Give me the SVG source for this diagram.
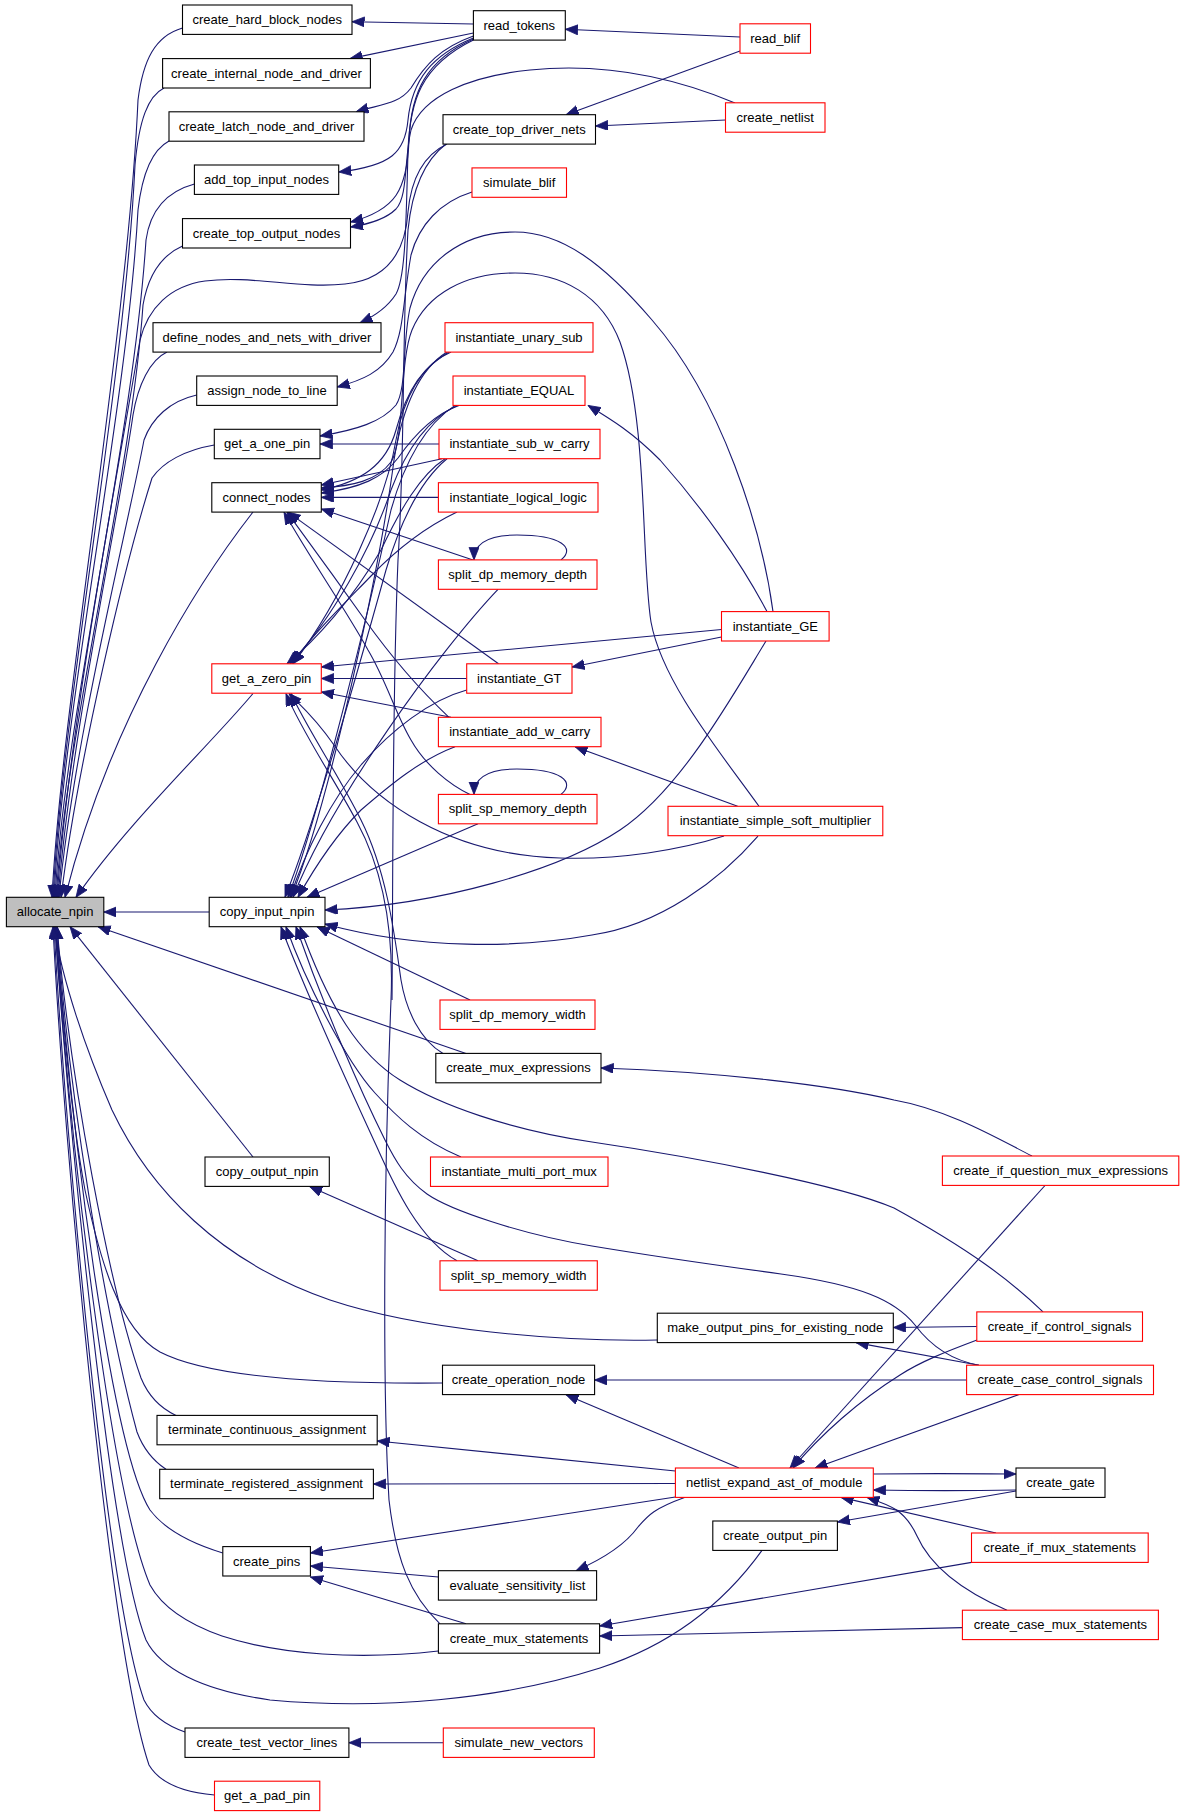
<svg xmlns="http://www.w3.org/2000/svg" width="1184" height="1816" viewBox="0 0 1184 1816">
<style>
.nd rect{fill:#fff;stroke:#000;stroke-width:1.1}
.nr rect{fill:#fff;stroke:#f00;stroke-width:1.1}
.ng rect{fill:#bfbfbf;stroke:#000;stroke-width:1.1}
text{font-family:"Liberation Sans",Arial,Helvetica,sans-serif;font-size:13px;fill:#000;text-anchor:middle}
#edges path{fill:none;stroke:#191970;stroke-width:1.1}
#edges path.a{marker-end:url(#ah)}
</style>
<defs>
<marker id="ah" markerUnits="userSpaceOnUse" markerWidth="14" markerHeight="11" refX="12.5" refY="5" orient="auto"><path d="M0,0 L12.5,5 L0,10 z" fill="#191970" stroke="#191970" stroke-width="0.8"/></marker>
</defs>
<rect width="1184" height="1816" fill="#fff"/>
<g id="edges">
<!-- to allocate_npin -->
<path class="a" d="M182.5,28 C155,36 143,60 138,100 C128,330 62,700 52,897.3"/>
<path class="a" d="M164,88 C148,96 139,120 135,165 C125,380 63,700 53,897.3"/>
<path class="a" d="M169,141 C152,150 142,175 138,210 C127,410 64,700 54,897.3"/>
<path class="a" d="M194.4,184 C165,192 150,212 146,240 C133,440 66,710 55,897.3"/>
<path class="a" d="M182.5,246 C160,256 148,276 143,305 C131,480 68,720 56,897.3"/>
<path class="a" d="M447,144 C422,156 411,180 408,212 C405,255 385,280 345,284 C300,289 250,275 205,281 C170,286 148,308 140,340 C120,460 70,720 57,897.3"/>
<path class="a" d="M167,352 C150,360 138,385 133,415 C118,520 72,730 58,897.3"/>
<path class="a" d="M196.7,395 C170,401 152,418 144,440 C126,535 74,740 59,897.3"/>
<path class="a" d="M214.3,445 C185,450 163,462 152,478 C126,560 78,760 61,897.3"/>
<path class="a" d="M253,512 C200,580 110,720 65,897.3"/>
<path class="a" d="M253,693.5 C210,745 130,820 76,897.3"/>
<path class="a" d="M209.2,912 L103.8,912"/>
<path class="a" d="M466,1053.4 L98,926.7"/>
<path class="a" d="M253,1157 L70,926.7"/>
<path class="a" d="M657.3,1340 C560,1342 420,1330 330,1300 C220,1262 150,1190 112,1110 C86,1050 62,980 54,926.7"/>
<path class="a" d="M442.5,1383 C330,1384 210,1378 160,1352 C120,1330 100,1260 85,1190 C70,1110 60,990 56,926.7"/>
<path class="a" d="M176,1415.4 C160,1408 148,1395 141,1378 C110,1290 70,1080 57,926.7"/>
<path class="a" d="M166,1469.3 C152,1460 143,1448 137,1432 C104,1310 68,1090 57,926.7"/>
<path class="a" d="M222.8,1553 C190,1543 165,1530 150,1510 C112,1450 72,1140 56,926.7"/>
<path class="a" d="M438.4,1651 C360,1660 280,1655 222,1636 C182,1622 160,1603 150,1585 C110,1490 70,1140 55,926.7"/>
<path class="a" d="M762,1550.4 C730,1595 680,1642 600,1668 C500,1700 380,1710 270,1700 C200,1690 160,1668 146,1640 C110,1550 70,1140 55,926.7"/>
<path class="a" d="M185,1732 C165,1725 151,1714 144,1700 C108,1600 66,1150 54,926.7"/>
<path class="a" d="M214.5,1795 C180,1792 159,1782 149,1765 C110,1650 64,1150 53,926.7"/>
<!-- top region -->
<path class="a" d="M473.4,24 L352,21.7"/>
<path class="a" d="M473.4,33 L350,58.6"/>
<path class="a" d="M473.4,36 C440,48 425,65 411,88 C399,104 382,104 356,111.8"/>
<path class="a" d="M473.4,38 C432,55 412,80 408,120 C405,152 392,166 338.7,172"/>
<path class="a" d="M473.4,39 C426,60 411,92 409,140 C407,190 396,210 350.6,222"/>
<path class="a" d="M735,103 C680,80 610,62 530,70 C470,76 422,96 411,130 C404,160 408,196 396,209 C386,219 370,224 350.6,227"/>
<path class="a" d="M473.4,40 C420,66 410,102 408,150 C406,232 405,278 396,294 C387,308 375,316 360,322.7"/>
<path class="a" d="M472,192 C440,202 419,225 411,255 C403,300 404,330 393,352 C381,372 363,380 337.2,387"/>
<path class="a" d="M740,37 L565.3,29.3"/>
<path class="a" d="M740,51 L566,114.7"/>
<path class="a" d="M725.5,120 L595.5,126"/>
<path d="M446,144 C425,160 412,190 408,230 C402,330 405,450 398,560 C392,700 393,900 392,1000"/>
<!-- arcs -->
<path class="a" d="M773,611.6 C762,530 722,400 652,320 C604,264 562,232 515,232 C460,232 422,264 410,308 C402,345 407,388 396,405 C382,422 356,430 320,436"/>
<path class="a" d="M759,806.3 C720,752 662,682 651,622 C641,560 648,420 620,342 C602,295 562,273 515,273 C465,273 427,294 412,330 C399,362 405,440 391,462 C377,481 352,486 321.3,488"/>
<!-- instantiate_unary_sub -->
<path class="a" d="M451,352 C421,365 405,396 396,430 C386,466 360,482 321.3,490"/>
<path class="a" d="M449,352 C420,368 403,400 396,440 C386,500 342,600 293,663.8"/>
<path class="a" d="M447,352 C418,370 402,410 394,460 C381,560 331,800 291,897.3"/>
<!-- instantiate_EQUAL -->
<path class="a" d="M459,405.4 C432,415 412,438 398,458 C383,478 360,488 321.3,493"/>
<path class="a" d="M457,405.4 C426,420 406,450 391,490 C371,550 331,620 290,663.8"/>
<path class="a" d="M455,405.4 C425,425 405,460 391,510 C371,600 321,810 288,897.3"/>
<!-- instantiate_sub_w_carry -->
<path class="a" d="M439,444 L320,444"/>
<path class="a" d="M442,458.7 L321.3,485"/>
<path class="a" d="M445,458.7 C420,475 400,510 381,550 C352,600 316,640 287,663.8"/>
<path class="a" d="M447,458.7 C421,480 401,520 386,570 C361,660 316,820 285,897.3"/>
<!-- instantiate_logical_logic -->
<path class="a" d="M438.4,497.4 L321.3,497.4"/>
<path class="a" d="M457,512.1 C430,525 400,546 371,576 C342,606 311,636 292,663.8"/>
<!-- split_dp_memory_depth -->
<path class="a" d="M473,559.9 L321.3,509"/>
<path class="a" d="M498,589.3 C440,650 331,800 293,897.3"/>
<path class="a" d="M561,559.9 C576,548 561,535 517,535 C486,535 474,545 474,559.9"/>
<!-- instantiate_GT -->
<path class="a" d="M498.5,663.8 L288,512.1"/>
<path class="a" d="M466.7,678.5 L321.3,678.5"/>
<path class="a" d="M466.7,690 C430,700 391,730 361,765 C331,800 306,850 290,897.3"/>
<!-- instantiate_add_w_carry -->
<path class="a" d="M449,717.3 C420,690 390,655 365,620 C340,585 311,545 287,512.1"/>
<path class="a" d="M451,717.3 L321.3,692"/>
<path class="a" d="M455,746.7 C420,760 390,785 361,810 C336,835 316,865 298,897.3"/>
<!-- split_sp_memory_depth -->
<path class="a" d="M470,794.4 C450,785 425,765 411,740 C396,715 386,680 368,650 C346,610 311,560 284,512.1"/>
<path class="a" d="M478,823.8 L307,897.3"/>
<path class="a" d="M561,794.4 C576,782 561,769 517,769 C486,769 474,779 474,794.4"/>
<!-- instantiate_GE -->
<path class="a" d="M721.5,637 L572,667"/>
<path class="a" d="M721.5,629.5 L321.3,667"/>
<path class="a" d="M767,611.6 C740,560 700,505 660,460 C632,432 612,420 588,405.4"/>
<path class="a" d="M766,641 C730,700 680,790 620,830 C560,870 440,905 325,910"/>
<!-- soft multiplier -->
<path class="a" d="M737.6,806.3 L575,746.7"/>
<path class="a" d="M724,836.1 C680,850 620,860 560,858 C450,855 372,802 334,745 C314,716 300,705 289,693.6"/>
<path class="a" d="M758,836.1 C720,880 660,925 592,935 C520,948 420,950 325,924"/>
<!-- lower middle -->
<path class="a" d="M470,1000 L317,926.7"/>
<path class="a" d="M443,1053.4 C420,1040 406,1010 401,980 C394,930 386,870 361,820 C337,772 306,727 291,693.6"/>
<path class="a" d="M440,1623.8 C410,1595 396,1560 389,1500 C383,1400 383,1200 391,1000 C394,930 384,872 357,822 C333,777 302,732 286,693.6"/>
<path class="a" d="M461,1157 C420,1140 395,1115 375,1093 C345,1060 305,980 286,926.7"/>
<path class="a" d="M457,1260.8 C420,1240 396,1190 376,1145 C346,1080 301,980 281,926.7"/>
<path class="a" d="M478,1260.8 L309.6,1186.6"/>
<path class="a" d="M1043,1311.9 C1010,1280 970,1250 894,1208 C840,1185 700,1158 592,1142 C510,1130 440,1105 400,1080 C360,1055 330,1010 300,926.7"/>
<path class="a" d="M979,1365.2 C950,1360 930,1345 915,1325 C895,1300 860,1285 781,1274 C700,1263 640,1254 592,1246 C520,1234 450,1210 427,1194 C405,1178 395,1160 385,1140 C360,1090 325,1010 296,926.7"/>
<path class="a" d="M1032,1156 C1000,1140 950,1110 894,1100 C830,1085 720,1072 601,1068"/>
<path class="a" d="M979,1365.2 L856,1342.6"/>
<path class="a" d="M976.8,1326.5 L893.3,1327.5"/>
<path class="a" d="M966.6,1380 L594.6,1380"/>
<!-- netlist_expand_ast_of_module -->
<path class="a" d="M1045,1185.5 L790,1468"/>
<path class="a" d="M977,1340 C945,1352 920,1362 900,1375 C860,1400 820,1435 793,1468"/>
<path class="a" d="M1018.6,1394.7 L815,1468"/>
<path class="a" d="M739,1468 L566,1394.7"/>
<path class="a" d="M675.4,1471 L377.2,1441"/>
<path class="a" d="M675.4,1483.5 L373.4,1484"/>
<path class="a" d="M675.4,1497 L310.4,1553"/>
<path class="a" d="M684.5,1497.4 C655,1508 648,1515 638,1527 C625,1545 605,1558 576,1570.7"/>
<path class="a" d="M873.3,1474 C950,1473 990,1474 1016,1474"/>
<path class="a" d="M1016,1490 C960,1491 930,1491 873.3,1490"/>
<path class="a" d="M1016,1491 L837.4,1522"/>
<path class="a" d="M996,1533 L841,1497.4"/>
<path class="a" d="M1007,1610.2 C960,1590 930,1565 917,1536 C905,1510 890,1505 867,1497.4"/>
<path class="a" d="M971.6,1562.4 L599.6,1626"/>
<path class="a" d="M962.4,1627.6 L599.6,1636"/>
<path class="a" d="M438.4,1577 L310.4,1566"/>
<path class="a" d="M466,1623.8 L310.4,1577"/>
<path class="a" d="M443.3,1742.7 L348.9,1742.7"/>
</g>
<g id="allocate_npin" class="ng"><rect x="6.4" y="897.3" width="97.4" height="29.4"/><text x="55.1" y="916.3">allocate_npin</text></g>
<g id="create_hard_block_nodes" class="nd"><rect x="182.5" y="5" width="169.5" height="29.4"/><text x="267.2" y="24">create_hard_block_nodes</text></g>
<g id="create_internal_node_and_driver" class="nd"><rect x="162.6" y="58.6" width="207.8" height="29.4"/><text x="266.5" y="77.6">create_internal_node_and_driver</text></g>
<g id="create_latch_node_and_driver" class="nd"><rect x="169" y="111.8" width="195" height="29.4"/><text x="266.5" y="130.8">create_latch_node_and_driver</text></g>
<g id="add_top_input_nodes" class="nd"><rect x="194.4" y="165" width="144.3" height="29.4"/><text x="266.5" y="184">add_top_input_nodes</text></g>
<g id="create_top_output_nodes" class="nd"><rect x="182.5" y="218.6" width="168" height="29.4"/><text x="266.5" y="237.6">create_top_output_nodes</text></g>
<g id="define_nodes_and_nets_with_driver" class="nd"><rect x="153" y="322.7" width="228" height="29.4"/><text x="267" y="341.7">define_nodes_and_nets_with_driver</text></g>
<g id="assign_node_to_line" class="nd"><rect x="196.7" y="376" width="140.5" height="29.4"/><text x="267" y="395">assign_node_to_line</text></g>
<g id="get_a_one_pin" class="nd"><rect x="214.3" y="429.3" width="105.7" height="29.4"/><text x="267.1" y="448.3">get_a_one_pin</text></g>
<g id="connect_nodes" class="nd"><rect x="211.8" y="482.7" width="109.5" height="29.4"/><text x="266.5" y="501.7">connect_nodes</text></g>
<g id="get_a_zero_pin" class="nr"><rect x="211.8" y="663.8" width="109.5" height="29.4"/><text x="266.5" y="682.8">get_a_zero_pin</text></g>
<g id="copy_input_npin" class="nd"><rect x="209.2" y="897.3" width="115.8" height="29.4"/><text x="267.1" y="916.3">copy_input_npin</text></g>
<g id="copy_output_npin" class="nd"><rect x="205" y="1157" width="124.3" height="29.4"/><text x="267.1" y="1176">copy_output_npin</text></g>
<g id="terminate_continuous_assignment" class="nd"><rect x="157" y="1415.4" width="220.2" height="29.4"/><text x="267.1" y="1434.4">terminate_continuous_assignment</text></g>
<g id="terminate_registered_assignment" class="nd"><rect x="159.7" y="1469.3" width="213.7" height="29.4"/><text x="266.5" y="1488.3">terminate_registered_assignment</text></g>
<g id="create_pins" class="nd"><rect x="222.8" y="1546.6" width="87.6" height="29.4"/><text x="266.6" y="1565.6">create_pins</text></g>
<g id="create_test_vector_lines" class="nd"><rect x="185" y="1728" width="163.9" height="29.4"/><text x="266.9" y="1747">create_test_vector_lines</text></g>
<g id="get_a_pad_pin" class="nr"><rect x="214.5" y="1781.2" width="105.3" height="29.4"/><text x="267.1" y="1800.2">get_a_pad_pin</text></g>
<g id="read_tokens" class="nd"><rect x="473.4" y="10.7" width="91.9" height="29.4"/><text x="519.3" y="29.7">read_tokens</text></g>
<g id="create_top_driver_nets" class="nd"><rect x="443" y="114.7" width="152.5" height="29.4"/><text x="519.2" y="133.7">create_top_driver_nets</text></g>
<g id="simulate_blif" class="nr"><rect x="472" y="167.9" width="94.5" height="29.4"/><text x="519.2" y="186.9">simulate_blif</text></g>
<g id="instantiate_unary_sub" class="nr"><rect x="445" y="322.7" width="148" height="29.4"/><text x="519" y="341.7">instantiate_unary_sub</text></g>
<g id="instantiate_EQUAL" class="nr"><rect x="453" y="376" width="132" height="29.4"/><text x="519" y="395">instantiate_EQUAL</text></g>
<g id="instantiate_sub_w_carry" class="nr"><rect x="439" y="429.3" width="161" height="29.4"/><text x="519.5" y="448.3">instantiate_sub_w_carry</text></g>
<g id="instantiate_logical_logic" class="nr"><rect x="438.4" y="482.7" width="159.6" height="29.4"/><text x="518.2" y="501.7">instantiate_logical_logic</text></g>
<g id="split_dp_memory_depth" class="nr"><rect x="438.4" y="559.9" width="158.6" height="29.4"/><text x="517.7" y="578.9">split_dp_memory_depth</text></g>
<g id="instantiate_GT" class="nr"><rect x="466.7" y="663.8" width="105.3" height="29.4"/><text x="519.3" y="682.8">instantiate_GT</text></g>
<g id="instantiate_add_w_carry" class="nr"><rect x="438.4" y="717.3" width="162.6" height="29.4"/><text x="519.7" y="736.3">instantiate_add_w_carry</text></g>
<g id="split_sp_memory_depth" class="nr"><rect x="438.4" y="794.4" width="158.6" height="29.4"/><text x="517.7" y="813.4">split_sp_memory_depth</text></g>
<g id="split_dp_memory_width" class="nr"><rect x="440" y="1000" width="155" height="29.4"/><text x="517.5" y="1019">split_dp_memory_width</text></g>
<g id="create_mux_expressions" class="nd"><rect x="435.8" y="1053.4" width="165.2" height="29.4"/><text x="518.4" y="1072.4">create_mux_expressions</text></g>
<g id="instantiate_multi_port_mux" class="nr"><rect x="430.5" y="1157" width="177.5" height="29.4"/><text x="519.2" y="1176">instantiate_multi_port_mux</text></g>
<g id="split_sp_memory_width" class="nr"><rect x="440" y="1260.8" width="157.3" height="29.4"/><text x="518.6" y="1279.8">split_sp_memory_width</text></g>
<g id="create_operation_node" class="nd"><rect x="442.5" y="1365.2" width="152.1" height="29.4"/><text x="518.5" y="1384.2">create_operation_node</text></g>
<g id="evaluate_sensitivity_list" class="nd"><rect x="438.4" y="1570.7" width="158.2" height="29.4"/><text x="517.5" y="1589.7">evaluate_sensitivity_list</text></g>
<g id="create_mux_statements" class="nd"><rect x="438.4" y="1623.8" width="161.2" height="29.4"/><text x="519" y="1642.8">create_mux_statements</text></g>
<g id="simulate_new_vectors" class="nr"><rect x="443.3" y="1728" width="151" height="29.4"/><text x="518.8" y="1747">simulate_new_vectors</text></g>
<g id="read_blif" class="nr"><rect x="740" y="23.8" width="70.5" height="29.4"/><text x="775.2" y="42.8">read_blif</text></g>
<g id="create_netlist" class="nr"><rect x="725.5" y="102.8" width="99.5" height="29.4"/><text x="775.2" y="121.8">create_netlist</text></g>
<g id="instantiate_GE" class="nr"><rect x="721.5" y="611.6" width="107.6" height="29.4"/><text x="775.3" y="630.6">instantiate_GE</text></g>
<g id="instantiate_simple_soft_multiplier" class="nr"><rect x="668" y="806.3" width="214.8" height="29.4"/><text x="775.4" y="825.3">instantiate_simple_soft_multiplier</text></g>
<g id="make_output_pins_for_existing_node" class="nd"><rect x="657.3" y="1313.2" width="236" height="29.4"/><text x="775.3" y="1332.2">make_output_pins_for_existing_node</text></g>
<g id="netlist_expand_ast_of_module" class="nr"><rect x="675.4" y="1468" width="197.9" height="29.4"/><text x="774.3" y="1487">netlist_expand_ast_of_module</text></g>
<g id="create_output_pin" class="nd"><rect x="712.8" y="1521" width="124.6" height="29.4"/><text x="775.1" y="1540">create_output_pin</text></g>
<g id="create_if_question_mux_expressions" class="nr"><rect x="942.4" y="1156" width="236.4" height="29.4"/><text x="1060.6" y="1175">create_if_question_mux_expressions</text></g>
<g id="create_if_control_signals" class="nr"><rect x="976.8" y="1311.9" width="165.7" height="29.4"/><text x="1059.6" y="1330.9">create_if_control_signals</text></g>
<g id="create_case_control_signals" class="nr"><rect x="966.6" y="1365.2" width="186.9" height="29.4"/><text x="1060" y="1384.2">create_case_control_signals</text></g>
<g id="create_gate" class="nd"><rect x="1016" y="1468" width="89" height="29.4"/><text x="1060.5" y="1487">create_gate</text></g>
<g id="create_if_mux_statements" class="nr"><rect x="971.5" y="1533" width="176.7" height="29.4"/><text x="1059.8" y="1552">create_if_mux_statements</text></g>
<g id="create_case_mux_statements" class="nr"><rect x="962.4" y="1610.2" width="196" height="29.4"/><text x="1060.4" y="1629.2">create_case_mux_statements</text></g>
</svg>
